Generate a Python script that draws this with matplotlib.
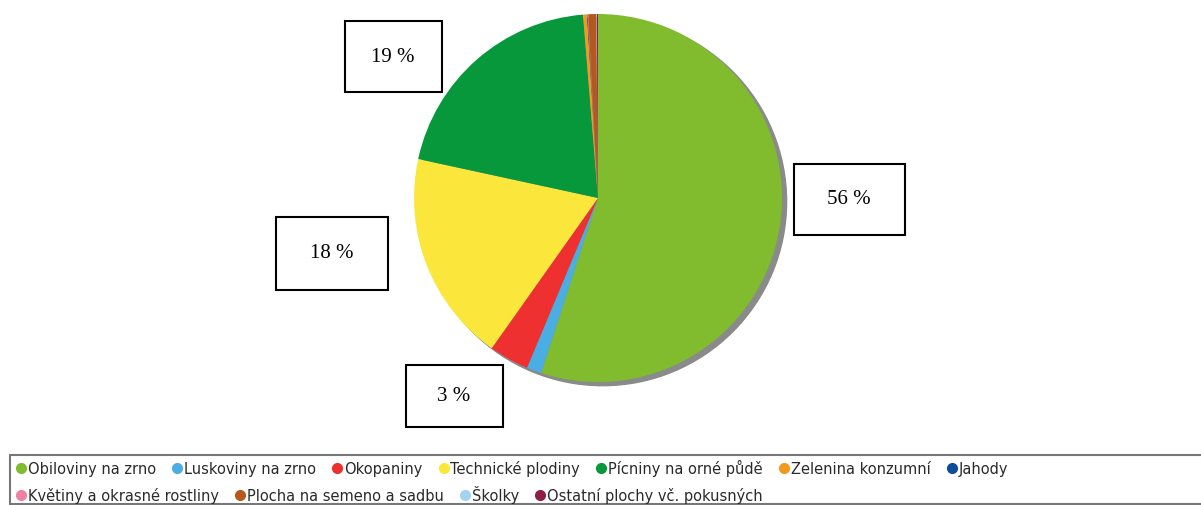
import matplotlib
matplotlib.use("Agg")
import matplotlib.pyplot as plt
from matplotlib.patches import Circle, Rectangle

categories = ["Obiloviny na zrno", "Luskoviny na zrno", "Okopaniny", "Technické plodiny",
              "Pícniny na orné půdě", "Zelenina konzumní", "Jahody",
              "Květiny a okrasné rostliny", "Plocha na semeno a sadbu", "Školky",
              "Ostatní plochy vč. pokusných"]
values = [55.0, 1.3, 3.5, 18.6, 20.3, 0.35, 0.05, 0.05, 0.7, 0.05, 0.1]
colors = ["#80BC2E", "#4AAEE3", "#EE3030", "#FBE73B", "#06983A", "#F39A1E", "#0B4C9B",
          "#EE82A2", "#B5581E", "#A2D3F2", "#8D1F47"]
pie_labels = ["56 %", "3 %", "18 %", "19 %"]

W, H = 1201, 506
fig = plt.figure(figsize=(W / 100, H / 100), dpi=100)
fig.patch.set_facecolor("white")

# pie axes (pixel box)
cx, cy, r = 598, 199, 184
ax = fig.add_axes([(cx - r) / W, (H - cy - r) / H, 2 * r / W, 2 * r / H])
ax.add_patch(Circle((0.025, -0.02), 1.0, color="#8a8a8a", zorder=0))
ax.pie(values, colors=colors, startangle=90, counterclock=False, radius=1.0,
       wedgeprops=dict(linewidth=0))
ax.set_xlim(-1.0, 1.0)
ax.set_ylim(-1.0, 1.0)
ax.set_aspect("auto")
ax.axis("off")
for p in ax.patches:
    p.set_clip_on(False)

# label boxes (pixel centres)
box_pos = [(849, 200), (454, 397), (332, 254), (393, 57)]
box_size = [(111, 71), (97, 62), (112, 73), (97, 71)]
for lab, (x, y), (bw, bh) in zip(pie_labels, box_pos, box_size):
    fig.patches.append(Rectangle(((x - bw / 2) / W, (H - y - bh / 2) / H), bw / W, bh / H,
                                 transform=fig.transFigure, facecolor="white",
                                 edgecolor="black", linewidth=1.5, zorder=5))
    fig.text(x / W, (H - y) / H, lab, ha="center", va="center", fontsize=15,
             family="Liberation Serif", zorder=6)

# legend frame
fig.patches.append(Rectangle((10 / W, 1 / H), (W + 5) / W, (505 - 456) / H,
                             transform=fig.transFigure, facecolor="white",
                             edgecolor="#777777", linewidth=1.5, zorder=1, clip_on=False))

rows = [list(range(0, 7)), list(range(7, 11))]
row_y = [469, 496]
fig.canvas.draw()
renderer = fig.canvas.get_renderer()
for row, y in zip(rows, row_y):
    x = 21
    for i in row:
        fig.lines.append(plt.Line2D([x / W], [(H - y) / H], marker="o", markersize=7,
                                    color=colors[i], transform=fig.transFigure, zorder=3))
        t = fig.text((x + 7) / W, (H - y - 5) / H, categories[i], ha="left", va="baseline",
                     fontsize=10.5, family="DejaVu Sans", color="#2a2a2a", zorder=3)
        bb = t.get_window_extent(renderer)
        x = x + 7 + bb.width + 21

fig.savefig("out.png", dpi=100)
